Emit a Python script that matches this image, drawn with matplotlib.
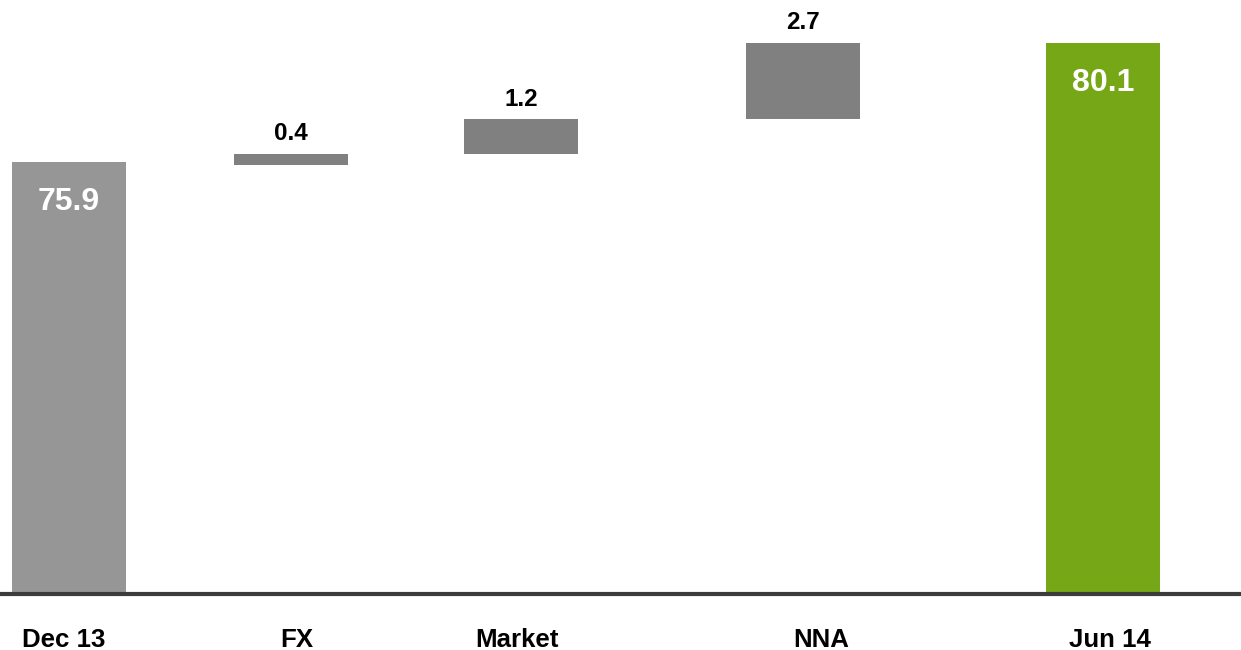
import matplotlib.pyplot as plt

plt.rcParams['font.family'] = ['Liberation Sans', 'DejaVu Sans']

categories = ['Dec 13', 'FX', 'Market', 'NNA', 'Jun 14']
start_value = 75.9
changes = [0.4, 1.2, 2.7]
end_value = 80.1

# layout, in pixel units across the 1241 px wide figure
bar_x = [69, 291, 521, 803, 1103]
label_x = [64, 297, 517, 821, 1110]
bar_width = 114
axis_base = 60.72  # value where the baseline sits (axis does not start at 0)

start_color = '#969696'
change_color = '#808080'
end_color = '#76a716'


def change_bottoms(end, deltas):
    # stack the changes back down from the end total
    bottoms = []
    level = end
    for d in reversed(deltas):
        level = level - d
        bottoms.append(level)
    return list(reversed(bottoms))


fig = plt.figure(figsize=(12.41, 6.5), dpi=100)
ax = fig.add_axes([0, 0, 1, 1])
ax.set_xlim(0, 1241)
ax.set_ylim(58.75, 81.6)
ax.axis('off')

# totals
ax.bar(bar_x[0], start_value - axis_base, bottom=axis_base, width=bar_width,
       color=start_color, zorder=2)
ax.bar(bar_x[-1], end_value - axis_base, bottom=axis_base, width=bar_width,
       color=end_color, zorder=2)
for x, v in [(bar_x[0], start_value), (bar_x[-1], end_value)]:
    ax.annotate(f'{v:.1f}', (x, v), xytext=(0, -34.5), textcoords='offset points',
                ha='center', va='baseline', fontsize=23, fontweight='bold',
                color='white', zorder=4)

# changes
bottoms = change_bottoms(end_value, changes)
ax.bar(bar_x[1:-1], changes, bottom=bottoms, width=bar_width,
       color=change_color, zorder=2)
for x, b, d in zip(bar_x[1:-1], bottoms, changes):
    ax.annotate(f'{d:.1f}', (x, b + d), xytext=(0, 9.5), textcoords='offset points',
                ha='center', va='baseline', fontsize=17.5, fontweight='bold',
                color='black')

# baseline
ax.axhline(axis_base, color='#3c3c3c', lw=3, zorder=3)

# category labels
for x, name in zip(label_x, categories):
    ax.text(x, 3 / 650, name, transform=ax.get_xaxis_transform(),
            ha='center', va='baseline', fontsize=18.6, fontweight='bold',
            color='black')

plt.savefig('out.png', dpi=100)
